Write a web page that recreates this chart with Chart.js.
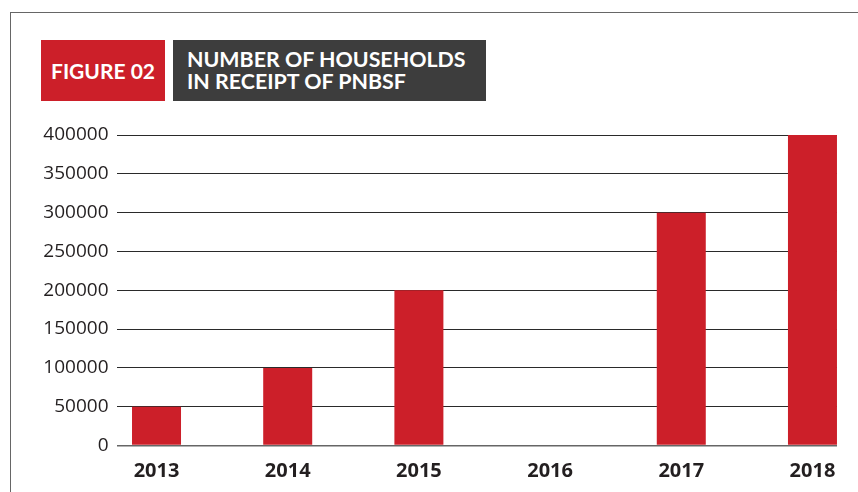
<!DOCTYPE html>
<html>
<head>
  <title>Figure 02</title>
  <script src="https://cdn.jsdelivr.net/npm/chart.js@4/dist/chart.umd.min.js"></script>
  <style>
    body { margin: 0; background: #fff; }
    #wrap { position: relative; width: 858px; height: 492px; overflow: hidden; }
    #frame { position: absolute; left: 10px; top: 12px; width: 900px; height: 600px;
             border-top: 1px solid #666; border-left: 1px solid #666; }
    .box { position: absolute; top: 40px; height: 61px; color: #fff;
           font-family: Lato, sans-serif; font-weight: bold; }
    #fig { left: 41px; width: 124px; background: #cc1f29; font-size: 21px;
           line-height: 61px; text-align: center; }
    #ttl { left: 173px; width: 313px; background: #3d3d3d; font-size: 21.4px;
           line-height: 22px; padding: 8px 0 0 14px; box-sizing: border-box; }
    canvas { position: absolute; left: 0; top: 0; }
  </style>
</head>
<body>
  <div id="wrap">
    <div id="frame"></div>
    <canvas id="chartCanvas" width="858" height="492"></canvas>
    <div class="box" id="fig">FIGURE 02</div>
    <div class="box" id="ttl">NUMBER OF HOUSEHOLDS<br>IN RECEIPT OF PNBSF</div>
  </div>

  <script>
    const years = ['2013', '2014', '2015', '2016', '2017', '2018'];
    const households = [50000, 100000, 200000, 0, 300000, 400000];
    const yTicks = [0, 50000, 100000, 150000, 200000, 250000, 300000, 350000, 400000];

    const points = years.map((y, i) => ({ x: i, y: households[i] }));

    const ctx = document.getElementById('chartCanvas').getContext('2d');
    new Chart(ctx, {
      type: 'bar',
      data: {
        datasets: [{
          data: points,
          backgroundColor: '#cc1f29',
          barThickness: 49,
          inflateAmount: 0
        }]
      },
      options: {
        responsive: false,
        animation: false,
        layout: { padding: { top: 135, right: 21, left: 0, bottom: 0 } },
        plugins: { legend: { display: false }, tooltip: { enabled: false } },
        scales: {
          x: {
            type: 'linear',
            offset: false,
            min: -0.305,
            max: 5.187,
            grid: { display: false },
            border: { display: false },
            afterBuildTicks: scale => { scale.ticks = years.map((y, i) => ({ value: i })); },
            afterFit: scale => { scale.height = 46.5; },
            ticks: {
              padding: 6,
              color: '#231f20',
              font: { family: 'Open Sans', size: 20, weight: 'bold' },
              callback: v => years[v]
            }
          },
          y: {
            min: 0,
            max: 400000,
            border: { display: false },
            grid: {
              drawTicks: false,
              color: c => c.tick.value === 0 ? '#666' : '#2a2a2a',
              lineWidth: c => c.tick.value === 0 ? 1.5 : 1
            },
            afterBuildTicks: scale => { scale.ticks = yTicks.map(v => ({ value: v })); },
            afterFit: scale => { scale.width = 116.5; },
            ticks: {
              padding: 8,
              color: '#231f20',
              font: { family: 'Open Sans', size: 19 },
              callback: v => String(v)
            }
          }
        }
      }
    });
  </script>
</body>
</html>
